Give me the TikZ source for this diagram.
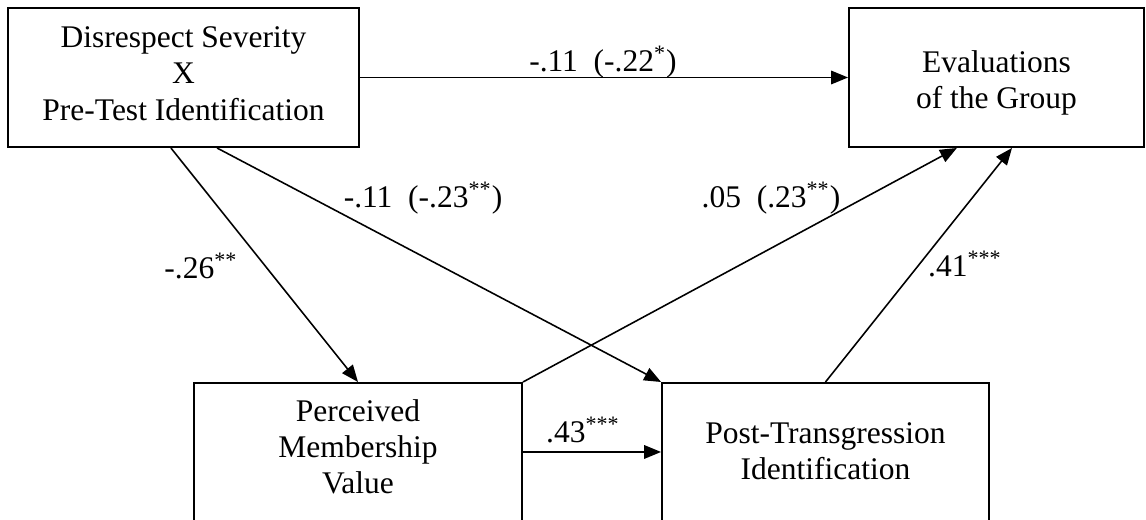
\documentclass[tikz,border=0pt]{standalone}
\usepackage{fontspec}
\setmainfont{Liberation Serif}
\usetikzlibrary{arrows.meta}
\tikzset{every node/.style={font=\fontsize{14}{16.1}\selectfont},
	box/.style={draw=black,line width=0.85pt,align=center,inner xsep=0pt},
	arr/.style={-{Triangle[length=7.5pt,width=6pt]},line width=0.7pt},
	lbl/.style={anchor=base,inner sep=0pt}}

\begin{document}
\begin{tikzpicture}[x=0.4444pt,y=-0.4444pt]
		\useasboundingbox (0,0) rectangle (1146,520);
		% boxes
		\node[box,minimum width=156pt,minimum height=61.8pt,text depth=3.6pt] (dis) at (183.5,77.5) {Disrespect Severity\\X\\Pre-Test Identification};
		\node[box,minimum width=131.1pt,minimum height=61.8pt,text height=30.8pt] (eval) at (996.5,77.5) {Evaluations\\of the Group};
		\node[box,anchor=north,minimum width=145.8pt,inner ysep=7.3pt,text depth=12pt] (memb) at (358,382) {Perceived\\Membership\\Value};
		\node[box,anchor=north,minimum width=145.3pt,inner ysep=17.5pt,text depth=8pt] (post) at (825.5,382) {Post-Transgression\\Identification};
		% paths
		\draw[arr] (dis) -- (eval);
		\draw[arr] ([xshift=-5.6pt]dis.south) -- (memb.north);
		\draw[arr] ([xshift=14.9pt]dis.south) -- (post.north west);
		\draw[arr] (memb.north east) -- ([xshift=-17.6pt]eval.south);
		\draw[arr] (post.north) -- ([xshift=6.9pt]eval.south);
		\draw[arr] ([yshift=-31.1pt]memb.north east) -- ([yshift=-31.1pt]post.north west);
		% coefficients
		\node[lbl] (c1) at (603,72) {-.11~~(-.22\textsuperscript{*})};
		\node[lbl] (c2) at (201,279) {-.26\textsuperscript{**}};
		\node[lbl] (c3) at (423,208) {-.11~~(-.23\textsuperscript{**})};
		\node[lbl] (c4) at (771,208) {.05~~(.23\textsuperscript{**})};
		\node[lbl] (c5) at (965,277) {.41\textsuperscript{***}};
		\node[lbl] (c6) at (583,443) {.43\textsuperscript{***}};
\end{tikzpicture}
\end{document}
